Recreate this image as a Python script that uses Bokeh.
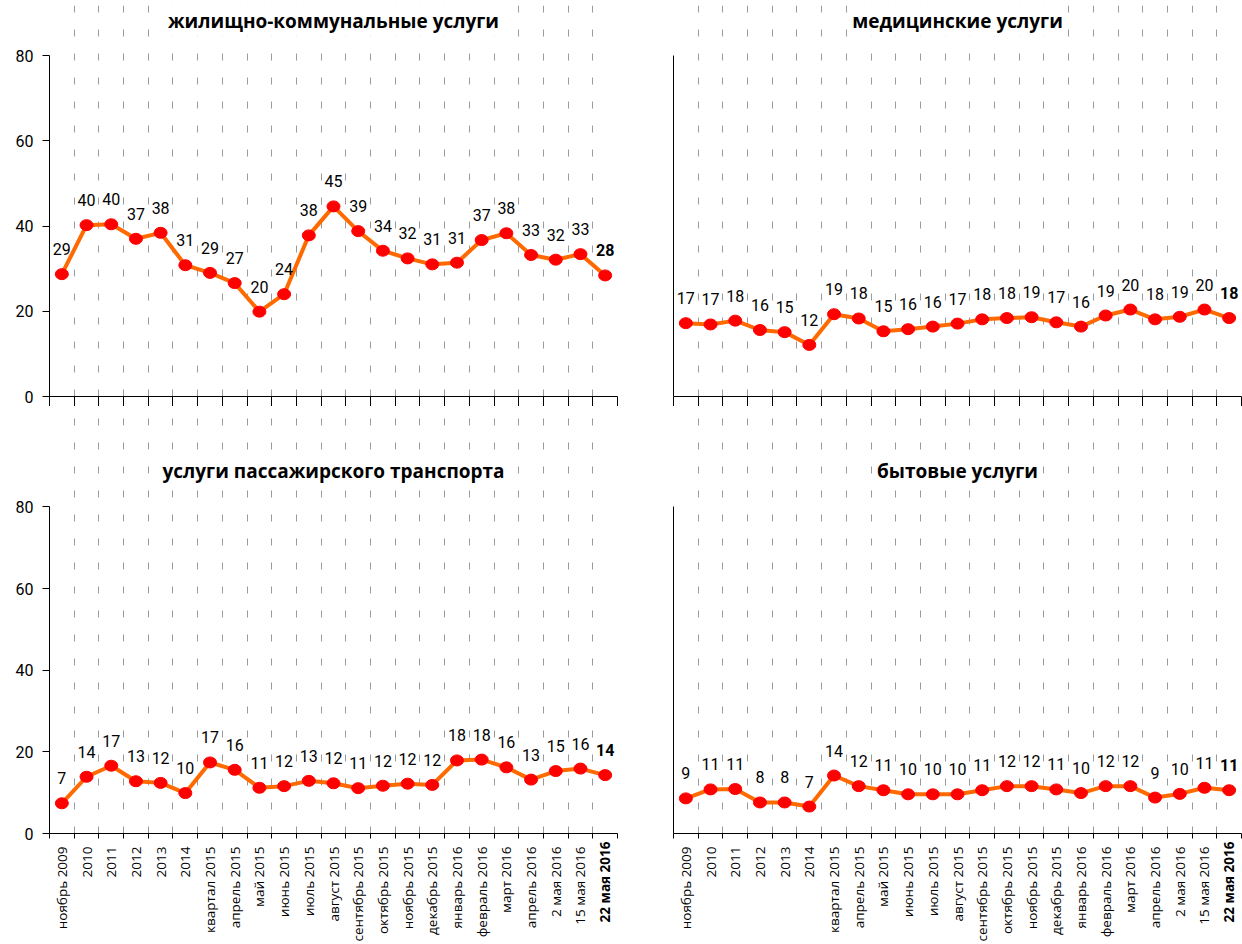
import math
from bokeh.plotting import figure
from bokeh.models import ColumnDataSource, FixedTicker, Range1d, LabelSet, Label, LinearAxis
from bokeh.layouts import column, row
from bokeh.embed import file_html
from bokeh.resources import INLINE
from bokeh.core.properties import value

categories = ["ноябрь 2009", "2010", "2011", "2012", "2013", "2014", "квартал 2015",
              "апрель 2015", "май 2015", "июнь 2015", "июль 2015", "август 2015",
              "сентябрь 2015", "октябрь 2015", "ноябрь 2015", "декабрь 2015",
              "январь 2016", "февраль 2016", "март 2016", "апрель 2016",
              "2 мая 2016", "15 мая 2016", "22 мая 2016"]

housing = [28.7, 40.2, 40.4, 37.0, 38.4, 30.8, 29.0, 26.6, 19.9, 24.0, 37.8, 44.6,
           38.8, 34.2, 32.4, 31.0, 31.4, 36.7, 38.3, 33.2, 32.1, 33.4, 28.4]
medical = [17.2, 16.9, 17.8, 15.6, 15.1, 12.1, 19.3, 18.3, 15.3, 15.8, 16.4, 17.1,
           18.1, 18.4, 18.6, 17.4, 16.4, 19.0, 20.4, 18.1, 18.7, 20.4, 18.4]
transport = [7.4, 13.9, 16.6, 12.8, 12.4, 9.9, 17.4, 15.6, 11.2, 11.6, 12.9, 12.3,
             11.1, 11.7, 12.2, 11.9, 17.9, 18.1, 16.2, 13.2, 15.3, 15.9, 14.3]
household = [8.6, 10.8, 10.9, 7.6, 7.6, 6.6, 14.2, 11.6, 10.6, 9.6, 9.6, 9.6,
             10.6, 11.6, 11.6, 10.8, 9.9, 11.6, 11.6, 8.8, 9.7, 11.2, 10.6]

titles = ["жилищно-коммунальные услуги", "медицинские услуги",
          "услуги пассажирского транспорта", "бытовые услуги"]
y_ticks = [0, 20, 40, 60, 80]

N = len(categories)
xs = list(range(N))
edges = [i - 0.5 for i in range(N + 1)]

LINE_COLOR = "#FF6A00"
DOT_COLOR = "#FF0000"
GRID_COLOR = "#9a9a9a"
NUM_FONT = "Roboto"
LBL_FONT = "Open Sans"
TITLE_FONT = "Open Sans"
LBL_SIZE = "13.5px"

# top panels: frame 5..396 px, value 80 at 55 px
TOP_PPU = 341.0 / 80
TOP_YMAX = 391.0 / TOP_PPU
# bottom panels: frame 406..833 px, value 80 at 506.7 px
BOT_PPU = 326.6 / 80
BOT_YMAX = 427.0 / BOT_PPU


def base_fig(width, height, left_b, right_b, top_b, bottom_b, ymax):
    p = figure(width=width, height=height, output_backend="svg", toolbar_location=None,
               x_range=Range1d(-0.5, N - 0.5), y_range=Range1d(0, ymax),
               min_border_left=left_b, min_border_right=right_b,
               min_border_top=top_b, min_border_bottom=bottom_b)
    p.outline_line_color = None
    p.background_fill_color = "white"
    p.ygrid.grid_line_color = None
    p.xgrid.ticker = FixedTicker(ticks=edges)
    p.xgrid.grid_line_color = GRID_COLOR
    p.xgrid.grid_line_dash = "7 17"
    p.xgrid.grid_line_width = 1
    return p


def style_y(p, labels):
    ax = p.yaxis[0]
    ax.bounds = (0, 80)
    ax.axis_line_color = "black"
    ax.minor_tick_line_color = None
    if labels:
        ax.ticker = FixedTicker(ticks=y_ticks)
        ax.major_tick_out = 7
        ax.major_tick_in = 0
        ax.major_tick_line_color = "black"
        ax.major_label_text_font = NUM_FONT
        ax.major_label_text_font_size = "16px"
        ax.major_label_text_color = "black"
        ax.major_label_standoff = 9
    else:
        ax.ticker = FixedTicker(ticks=[])
        ax.major_tick_line_color = None


def add_title(p, title, ppu, frame_bottom_px):
    p.add_layout(Label(x=(N - 1) / 2, y=(frame_bottom_px - 20) / ppu if frame_bottom_px < 500
                       else (frame_bottom_px - 470) / ppu,
                       text=title, text_align="center", text_baseline="middle",
                       text_font=TITLE_FONT, text_font_size="19px", text_font_style="bold",
                       text_color="black", background_fill_color="white", padding=3))


def add_series(p, vals):
    p.line(xs, vals, line_color=LINE_COLOR, line_width=4)
    p.ellipse(xs, vals, width=13, height=11, width_units="screen", height_units="screen",
              fill_color=DOT_COLOR, line_color=DOT_COLOR)
    lbls = [str(int(v + 0.5)) for v in vals]
    fs = ["normal"] * (N - 1) + ["bold"]
    src = ColumnDataSource(dict(x=xs, y=vals, t=lbls, fs=fs))
    p.add_layout(LabelSet(x="x", y="y", text="t", source=src, y_offset=25,
                          text_align="center", text_baseline="middle",
                          text_font=value(NUM_FONT), text_font_size="16px",
                          text_font_style="fs", text_color="black"))


def top_panel(title, vals, left):
    if left:
        p = base_fig(653, 406, 49, 36, 5, 10, TOP_YMAX)
    else:
        p = base_fig(589, 406, 20, 1, 5, 10, TOP_YMAX)
    p.xgrid.bounds = (0, 80)
    style_y(p, left)
    ax = p.xaxis[0]
    ax.ticker = FixedTicker(ticks=[], minor_ticks=edges)
    ax.axis_line_color = "black"
    ax.major_tick_line_color = None
    ax.minor_tick_out = 10
    ax.minor_tick_in = 0
    ax.minor_tick_line_color = "black"
    add_title(p, title, TOP_PPU, 396.0)
    add_series(p, vals)
    return p


def bottom_panel(title, vals, left):
    if left:
        p = base_fig(653, 538, 49, 36, 0, 111, BOT_YMAX)
    else:
        p = base_fig(589, 538, 20, 1, 0, 111, BOT_YMAX)
    style_y(p, left)
    ax = p.xaxis[0]
    ax.ticker = FixedTicker(ticks=xs, minor_ticks=edges)
    ax.axis_line_color = "black"
    ax.major_tick_out = 0
    ax.major_tick_in = 0
    ax.minor_tick_out = 5
    ax.minor_tick_in = 0
    ax.minor_tick_line_color = "black"
    ax.major_label_overrides = {i: (c if i < N - 1 else "") for i, c in enumerate(categories)}
    ax.major_label_orientation = math.pi / 2
    ax.major_label_text_font = LBL_FONT
    ax.major_label_text_font_size = LBL_SIZE
    ax.major_label_text_color = "black"
    ax.major_label_standoff = 8
    # bold label of the last category, drawn by a second axis pulled back under the first
    ax2 = LinearAxis(ticker=FixedTicker(ticks=[N - 1]),
                     major_label_overrides={N - 1: categories[-1]},
                     major_label_orientation=math.pi / 2,
                     major_label_text_font=LBL_FONT, major_label_text_font_size=LBL_SIZE,
                     major_label_text_font_style="bold", major_label_text_color="black",
                     major_label_standoff=-103, axis_line_color=None,
                     major_tick_line_color=None, minor_tick_line_color=None,
                     major_tick_out=0, major_tick_in=0)
    p.add_layout(ax2, "below")
    add_title(p, title, BOT_PPU, 833.0)
    add_series(p, vals)
    return p


tl = top_panel(titles[0], housing, True)
tr = top_panel(titles[1], medical, False)
bl = bottom_panel(titles[2], transport, True)
br = bottom_panel(titles[3], household, False)

layout = column(row(tl, tr), row(bl, br))
open("out.html", "w").write(file_html(layout, INLINE))
